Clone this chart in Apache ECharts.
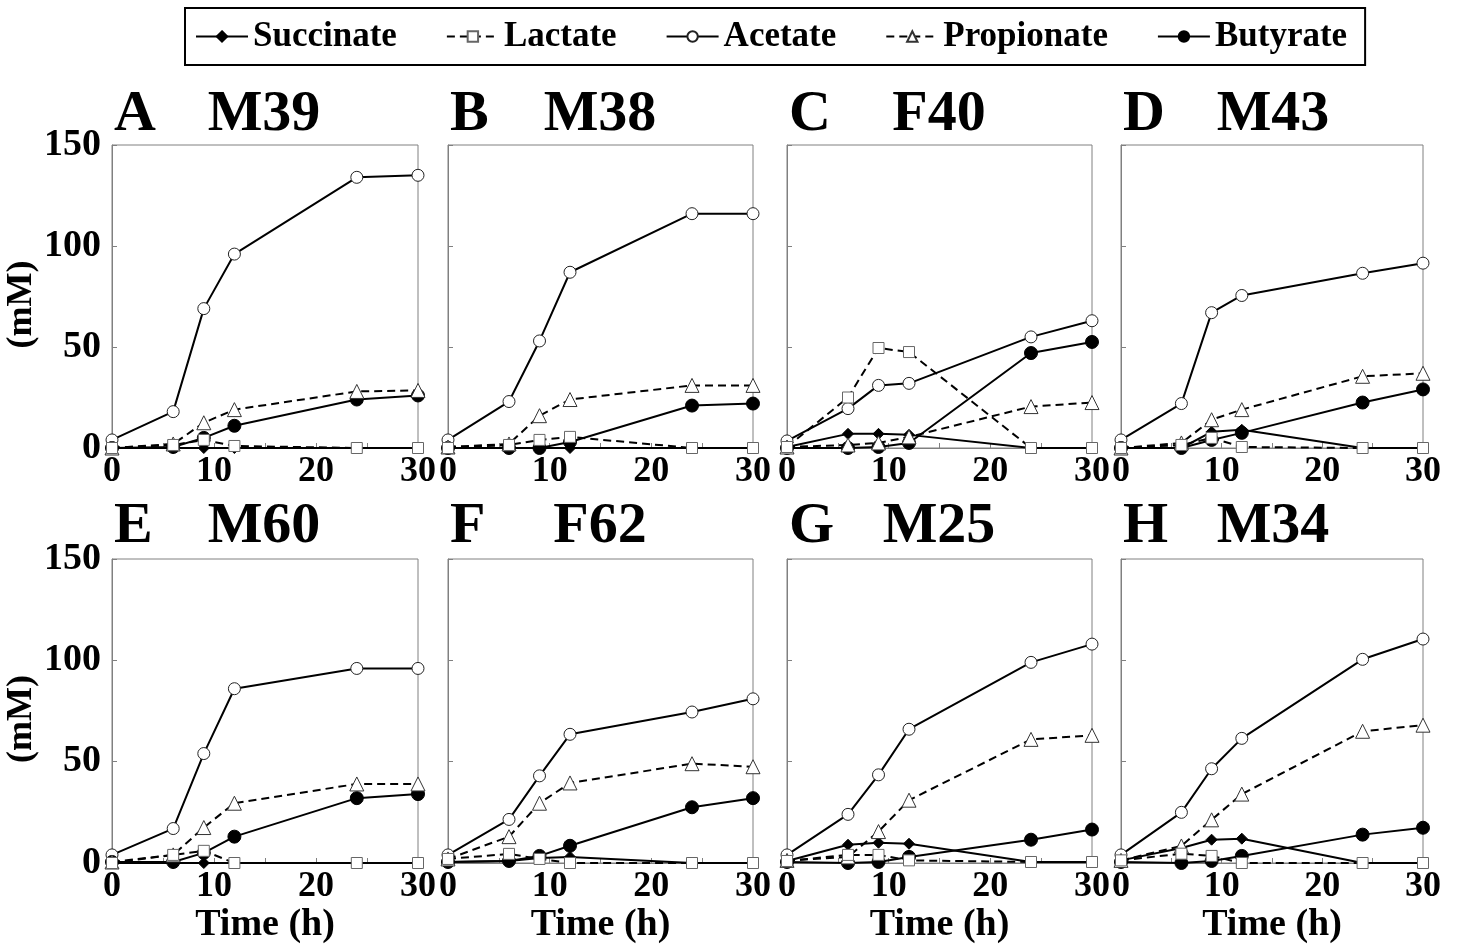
<!DOCTYPE html>
<html>
<head>
<meta charset="utf-8">
<script src="https://cdn.jsdelivr.net/npm/echarts@6/dist/echarts.min.js"></script>
<style>
html, body { margin: 0; padding: 0; background: #fff; }
#chart { width: 1460px; height: 947px; }
</style>
</head>
<body>
<div id="chart"></div>
<script>
// sampling times (h)
const hours = [0, 6, 9, 12, 24, 30]
const letters = ['A', 'B', 'C', 'D', 'E', 'F', 'G', 'H']
const donors = ['M39', 'M38', 'F40', 'M43', 'M60', 'F62', 'M25', 'M34']
const xTicks = [0, 10, 20, 30]
const yTicks = [0, 50, 100, 150]

// mM, one row per panel A..H
const succinate = [
  [0, 0, 0, 0, 0, 0],
  [0, 0, 0, 0, 0, 0],
  [0.5, 7, 7, 6.5, 0, 0],
  [0, 0, 8, 9, 0, 0],
  [0, 0, 0, 0, 0, 0],
  [0.5, 1, 2.5, 3, 0, 0],
  [1, 9, 10, 9.5, 0.5, 0.5],
  [1.3, 7.4, 11.5, 12, 0, 0]
]
const lactate = [
  [0, 1.5, 4, 1, 0, 0],
  [0, 1.5, 4, 5.5, 0, 0],
  [0.5, 25, 49.5, 47.5, 0, 0],
  [0, 1.5, 5, 0.5, 0, 0],
  [0, 4, 6, 0, 0, 0],
  [2, 4.5, 2, 0, 0, 0],
  [1, 4, 4, 1.3, 0.5, 0.5],
  [1.3, 4.6, 3.5, 0, 0, 0]
]
const acetate = [
  [4, 18, 69, 96, 134, 135],
  [4, 23, 53, 87, 116, 116],
  [3.5, 19.5, 31, 32, 55, 63],
  [4, 22, 67, 75.5, 86.5, 91.5],
  [4, 17, 54, 86, 96, 96],
  [4, 21.5, 43, 63.5, 74.5, 81],
  [4, 24, 43.5, 66, 99, 108],
  [4, 25, 46.5, 61.5, 100.5, 110.5]
]
const propionate = [
  [0, 2, 12.5, 19, 28, 28.5],
  [0.5, 2, 16, 24, 31, 31],
  [0.5, 1.5, 2.5, 5.5, 20.5, 22.5],
  [0, 2.5, 14, 19, 35.5, 37],
  [0.5, 4, 17.5, 29.5, 39, 39],
  [2, 13, 29.5, 39.5, 49, 47.5],
  [1.3, 3, 15.5, 31, 61, 63],
  [1.3, 8.4, 21.3, 34, 65, 68]
]
const butyrate = [
  [0, 0.5, 5, 11, 24, 26],
  [0, 0, 0, 3, 21, 22],
  [0, 0, 0.5, 2.5, 47, 52.5],
  [0, 0, 4, 7.5, 22.5, 29],
  [0.5, 0.5, 5, 13, 32, 34],
  [0.5, 1, 3.5, 8.5, 27.5, 32],
  [0.5, 0, 0.5, 3, 11.5, 16.5],
  [0.5, 0, 1, 3.5, 14, 17.4]
]

const acids = [
  { name: 'Succinate', data: succinate, symbol: 'diamond', size: 11, fill: '#000', border: '#000', dash: 'solid', z: 2 },
  { name: 'Lactate', data: lactate, symbol: 'rect', size: 11, fill: '#fff', border: '#666', dash: [8, 5], z: 4 },
  { name: 'Acetate', data: acetate, symbol: 'circle', size: 12, fill: '#fff', border: '#222', dash: 'solid', z: 2 },
  { name: 'Propionate', data: propionate, symbol: 'triangle', size: 14, fill: '#fff', border: '#333', dash: [8, 5], z: 3 },
  { name: 'Butyrate', data: butyrate, symbol: 'circle', size: 13, fill: '#000', border: '#000', dash: 'solid', z: 2 }
]

const font = 'Liberation Serif'
const gridLefts = [112, 448, 787, 1121]
const gridWidths = [306, 305, 305, 302]
const rowTops = [145, 559]
const rowHeights = [303, 304]
const titleTops = [81, 493]

const grids = []
const xAxes = []
const yAxes = []
const titles = []
const series = []

letters.forEach((letter, i) => {
  const row = Math.floor(i / 4)
  const col = i % 4
  grids.push({
    left: gridLefts[col],
    top: rowTops[row],
    width: gridWidths[col],
    height: rowHeights[row],
    show: true,
    borderColor: '#808080',
    borderWidth: 1
  })
  xAxes.push({
    gridIndex: i,
    type: 'value',
    min: 0,
    max: 30,
    interval: 5,
    name: row === 1 ? 'Time (h)' : '',
    nameLocation: 'middle',
    nameGap: 42,
    nameTextStyle: { fontFamily: font, fontWeight: 'bold', fontSize: 38, color: '#000' },
    axisLine: { lineStyle: { color: '#808080', width: 1 } },
    axisTick: { inside: true, length: 5, lineStyle: { color: '#808080' } },
    splitLine: { show: false },
    axisLabel: {
      showMinLabel: true,
      showMaxLabel: true,
      margin: 6,
      fontFamily: font,
      fontWeight: 'bold',
      fontSize: 36,
      color: '#000',
      formatter: v => (xTicks.indexOf(v) >= 0 ? String(v) : '')
    }
  })
  yAxes.push({
    gridIndex: i,
    type: 'value',
    min: 0,
    max: 150,
    interval: 50,
    name: col === 0 ? '(mM)' : '',
    nameLocation: 'middle',
    nameRotate: 90,
    nameGap: 62,
    nameTextStyle: { fontFamily: font, fontWeight: 'bold', fontSize: 36, color: '#000', padding: [0, 16, 0, 0] },
    axisLine: { show: true, lineStyle: { color: '#808080', width: 1 } },
    axisTick: { show: true, inside: true, length: 5, lineStyle: { color: '#808080' } },
    splitLine: { show: false },
    axisLabel: {
      show: col === 0,
      margin: 11,
      fontFamily: font,
      fontWeight: 'bold',
      fontSize: 38,
      color: '#000',
      formatter: v => (yTicks.indexOf(v) >= 0 ? String(v) : '')
    }
  })
  titles.push({
    text: letter,
    left: gridLefts[col] - 3,
    top: titleTops[row],
    textStyle: { fontFamily: font, fontWeight: 'bold', fontSize: 58, color: '#000' }
  })
  titles.push({
    text: donors[i],
    left: gridLefts[col] + 147,
    textAlign: 'center',
    top: titleTops[row],
    textStyle: { fontFamily: font, fontWeight: 'bold', fontSize: 58, color: '#000' }
  })
  acids.forEach(acid => {
    series.push({
      name: acid.name,
      type: 'line',
      xAxisIndex: i,
      yAxisIndex: i,
      z: acid.z,
      clip: false,
      symbol: acid.symbol,
      symbolSize: acid.size,
      showAllSymbol: true,
      itemStyle: { color: acid.fill, borderColor: acid.border, borderWidth: 1 },
      lineStyle: { color: '#000', width: 2, type: acid.dash },
      emphasis: { disabled: true },
      data: hours.map((h, k) => [h, acid.data[i][k]])
    })
  })
})

const myChart = echarts.init(document.getElementById('chart'))
myChart.setOption({
  backgroundColor: '#fff',
  animation: false,
  title: titles,
  legend: {
    data: acids.map(a => a.name),
    left: 185,
    top: 8,
    padding: [11, 18, 11, 10],
    itemGap: 49,
    itemWidth: 52,
    itemHeight: 13,
    borderColor: '#000',
    borderWidth: 2,
    selectedMode: false,
    textStyle: { fontFamily: font, fontWeight: 'bold', fontSize: 35, color: '#000' }
  },
  grid: grids,
  xAxis: xAxes,
  yAxis: yAxes,
  series: series
})
</script>
</body>
</html>
